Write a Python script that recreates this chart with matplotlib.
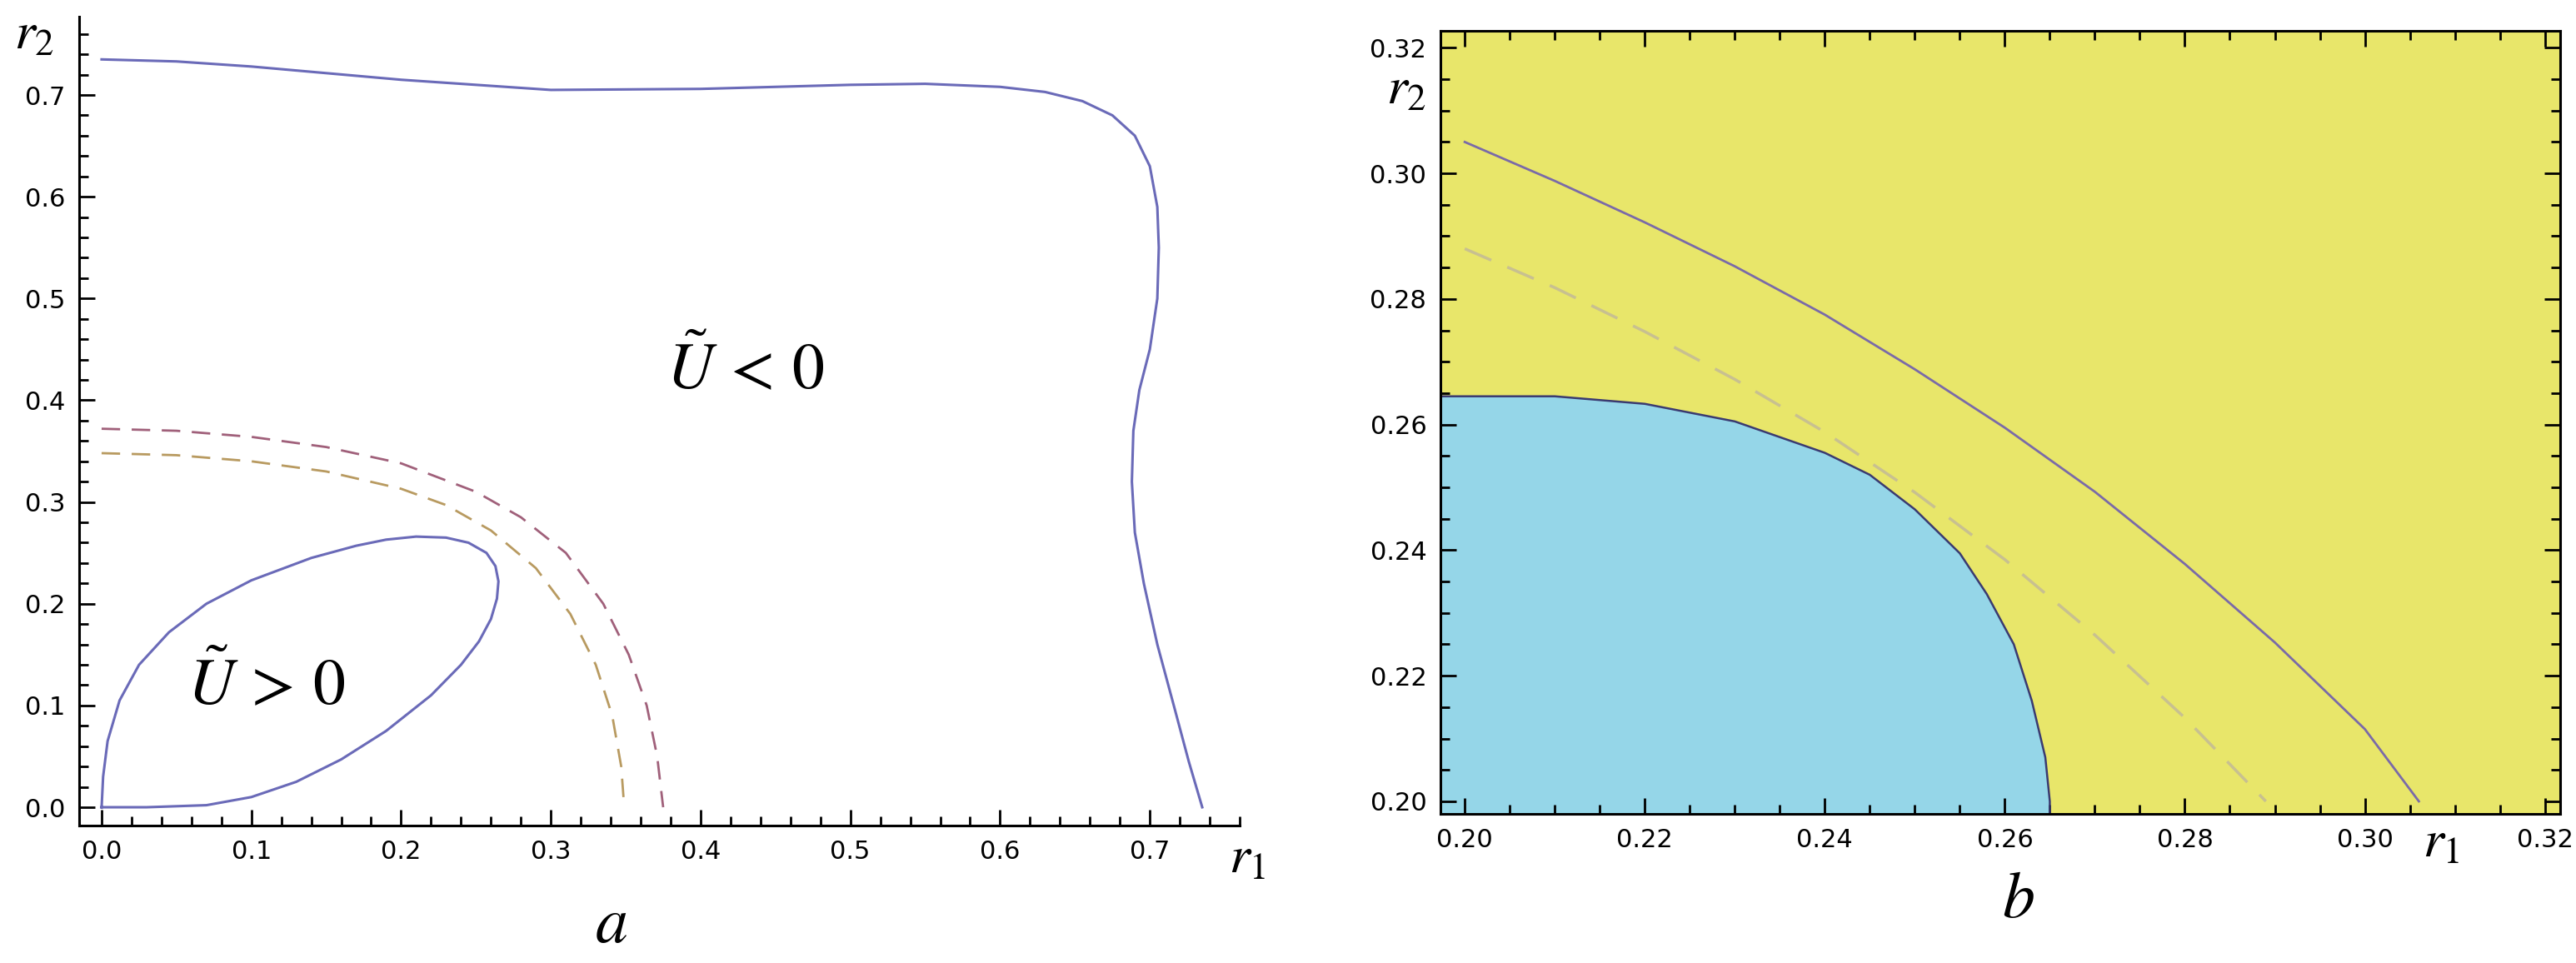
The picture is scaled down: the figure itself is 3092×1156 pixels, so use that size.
import numpy as np
import matplotlib.pyplot as plt
from matplotlib.ticker import MultipleLocator

plt.rcParams['mathtext.fontset'] = 'stix'
plt.rcParams['font.family'] = 'DejaVu Sans'

# panel a: outer zero contour
outer_x = [0.0, 0.05, 0.1, 0.2, 0.3, 0.4, 0.5, 0.55, 0.6, 0.63, 0.655, 0.675, 0.69, 0.7, 0.705, 0.706, 0.705,
           0.70, 0.693, 0.689, 0.688, 0.69, 0.696, 0.705, 0.716, 0.726, 0.735]
outer_y = [0.735, 0.733, 0.728, 0.715, 0.705, 0.706, 0.71, 0.711, 0.708, 0.703, 0.694, 0.68, 0.66, 0.63, 0.59, 0.55, 0.5,
           0.45, 0.41, 0.37, 0.32, 0.27, 0.22, 0.16, 0.1, 0.045, 0.0]
# panel a: inner loop
loop_x = [0.0, 0.03, 0.07, 0.1, 0.13, 0.16, 0.19, 0.22, 0.24, 0.252, 0.26, 0.264, 0.265, 0.263, 0.257, 0.245, 0.23,
          0.21, 0.19, 0.17, 0.14, 0.1, 0.07, 0.045, 0.025, 0.012, 0.004, 0.001, 0.0]
loop_y = [0.0, 0.0, 0.002, 0.01, 0.025, 0.047, 0.075, 0.11, 0.14, 0.163, 0.185, 0.205, 0.222, 0.237, 0.25, 0.26, 0.265,
          0.266, 0.263, 0.257, 0.245, 0.223, 0.2, 0.172, 0.14, 0.105, 0.065, 0.03, 0.0]
# panel a: dashed arcs
arc1_x = [0.0, 0.05, 0.1, 0.15, 0.2, 0.25, 0.28, 0.31, 0.335, 0.352, 0.364, 0.371, 0.375]
arc1_y = [0.372, 0.37, 0.364, 0.354, 0.338, 0.31, 0.285, 0.25, 0.2, 0.15, 0.1, 0.05, 0.0]
arc2_x = [0.0, 0.05, 0.1, 0.15, 0.2, 0.23, 0.26, 0.29, 0.313, 0.33, 0.341, 0.347, 0.349]
arc2_y = [0.348, 0.346, 0.34, 0.33, 0.313, 0.297, 0.272, 0.235, 0.19, 0.14, 0.09, 0.04, 0.0]

# panel b
blue_x = [0.1973, 0.20, 0.21, 0.22, 0.23, 0.24, 0.245, 0.25, 0.255, 0.258, 0.261, 0.263, 0.2645, 0.265, 0.265]
blue_y = [0.2645, 0.2645, 0.2645, 0.2633, 0.2605, 0.2555, 0.252, 0.2465, 0.2395, 0.233, 0.225, 0.216, 0.207, 0.2, 0.198]
solid_x = [0.20, 0.21, 0.22, 0.23, 0.24, 0.25, 0.26, 0.27, 0.28, 0.29, 0.30, 0.306]
solid_y = [0.305, 0.2988, 0.2922, 0.2852, 0.2775, 0.2688, 0.2595, 0.2493, 0.2378, 0.2253, 0.2115, 0.2]
dash_x = [0.20, 0.21, 0.22, 0.23, 0.24, 0.25, 0.26, 0.27, 0.28, 0.289]
dash_y = [0.288, 0.2818, 0.2748, 0.2672, 0.2588, 0.2492, 0.2385, 0.2265, 0.2133, 0.2]

fig = plt.figure(figsize=(30.92, 11.56), dpi=100)
W, H = 3092, 1156
axa = fig.add_axes([95 / W, 1 - 991 / H, (1488 - 95) / W, (991 - 20) / H])
axb = fig.add_axes([1729 / W, 1 - 977 / H, (3073 - 1729) / W, (977 - 37) / H])

line_col = '#6a6ab8'
axa.plot(outer_x, outer_y, color=line_col, lw=2.2)
axa.plot(loop_x, loop_y, color=line_col, lw=2.2)
axa.plot(arc1_x, arc1_y, color='#a0607a', lw=2, dashes=(8, 5))
axa.plot(arc2_x, arc2_y, color='#b89a60', lw=2, dashes=(8, 5))
axa.set_xlim(-0.015, 0.76)
axa.set_ylim(-0.018, 0.777)
axa.spines['top'].set_visible(False)
axa.spines['right'].set_visible(False)
axa.xaxis.set_major_locator(MultipleLocator(0.1))
axa.xaxis.set_minor_locator(MultipleLocator(0.02))
axa.yaxis.set_major_locator(MultipleLocator(0.1))
axa.yaxis.set_minor_locator(MultipleLocator(0.02))
axa.xaxis.set_major_formatter(lambda v, p: f'{v:.1f}')
axa.yaxis.set_major_formatter(lambda v, p: f'{v:.1f}')
axa.text(0.43, 0.43, r'$\tilde{U}\,<\,0$', fontsize=56, ha='center', va='center')
axa.text(0.11, 0.12, r'$\tilde{U}\,>\,0$', fontsize=56, ha='center', va='center')
axa.text(-0.045, 0.76, r'$r_2$', fontsize=46, ha='center', va='center')
axa.text(0.765, -0.05, r'$r_1$', fontsize=46, ha='center', va='center')
axa.text(0.34, -0.115, r'$a$', fontsize=56, ha='center', va='center')

axb.set_facecolor('#e8e66a')
axb.fill_between(blue_x, 0.19, blue_y, color='#95d6e8', lw=0)
axb.plot(blue_x, blue_y, color='#3a3a70', lw=1.8)
axb.plot(solid_x, solid_y, color='#7a6aa8', lw=2)
axb.plot(dash_x, dash_y, color='#c8c090', lw=2.5, dashes=(10, 6))
axb.set_xlim(0.1973, 0.3217)
axb.set_ylim(0.198, 0.3227)
axb.xaxis.set_major_locator(MultipleLocator(0.02))
axb.xaxis.set_minor_locator(MultipleLocator(0.005))
axb.yaxis.set_major_locator(MultipleLocator(0.02))
axb.yaxis.set_minor_locator(MultipleLocator(0.005))
axb.xaxis.set_major_formatter(lambda v, p: f'{v:.2f}')
axb.yaxis.set_major_formatter(lambda v, p: f'{v:.2f}')
axb.text(0.1935, 0.3135, r'$r_2$', fontsize=46, ha='center', va='center')
axb.text(0.3085, 0.1935, r'$r_1$', fontsize=46, ha='center', va='center')
axb.text(0.2615, 0.1845, r'$b$', fontsize=56, ha='center', va='center')

for ax, both in ((axa, False), (axb, True)):
    ax.tick_params(which='both', direction='in', top=both, right=both, labelsize=22, width=2, pad=12)
    ax.tick_params(which='major', length=14)
    ax.tick_params(which='minor', length=8)
    for s in ax.spines.values():
        s.set_linewidth(2.2)

fig.savefig('out.png', dpi=100)
